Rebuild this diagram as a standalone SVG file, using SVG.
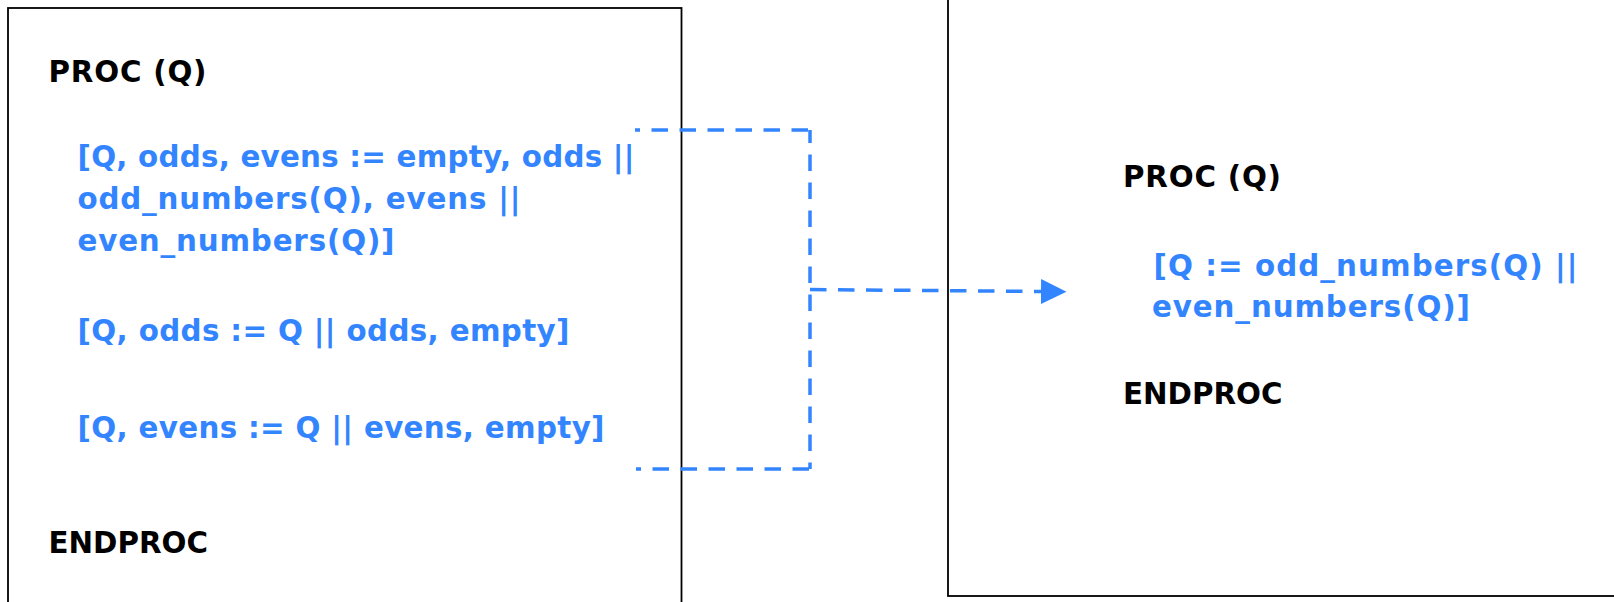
<svg xmlns="http://www.w3.org/2000/svg" width="1614" height="602" viewBox="0 0 1614 602">
  <style>
    .box { fill: #ffffff; stroke: #000000; stroke-width: 1.8; }
    .kw { font-family: "DejaVu Sans", Verdana, sans-serif; font-weight: bold; font-size: 29.33px; fill: #000000; }
    .code { font-family: "DejaVu Sans", Verdana, sans-serif; font-weight: bold; font-size: 29.33px; fill: #3385ff; }
    .link { fill: none; stroke: #3385ff; stroke-width: 3.5; stroke-dasharray: 16.5 11.5; }
  </style>
  <defs>
    <marker id="arrow" markerUnits="userSpaceOnUse" markerWidth="26" markerHeight="26" refX="0" refY="13" orient="auto" viewBox="0 0 26 26">
      <path d="M0,0.5 L25.5,13 L0,25.5 Z" fill="#3385ff"/>
    </marker>
  </defs>
  <rect width="1614" height="602" fill="#ffffff"/>

  <!-- original procedure -->
  <g id="proc-left">
    <rect class="box" x="8" y="8" width="673.5" height="700"/>
    <text class="kw" x="48.5" y="82" textLength="158" lengthAdjust="spacing">PROC (Q)</text>
    <text class="code" x="77.5" y="166.5" textLength="557" lengthAdjust="spacing">[Q, odds, evens := empty, odds ||</text>
    <text class="code" x="77.5" y="208.5" textLength="443" lengthAdjust="spacing">odd_numbers(Q), evens ||</text>
    <text class="code" x="77.5" y="250.5" textLength="317" lengthAdjust="spacing">even_numbers(Q)]</text>
    <text class="code" x="77.5" y="340.5" textLength="492" lengthAdjust="spacing">[Q, odds := Q || odds, empty]</text>
    <text class="code" x="77.5" y="438" textLength="527" lengthAdjust="spacing">[Q, evens := Q || evens, empty]</text>
    <text class="kw" x="48.5" y="552.5">ENDPROC</text>
  </g>

  <!-- simplified procedure -->
  <g id="proc-right">
    <rect class="box" x="948" y="-20" width="700" height="616"/>
    <text class="kw" x="1123" y="187" textLength="158" lengthAdjust="spacing">PROC (Q)</text>
    <text class="code" x="1153.5" y="275.5" textLength="424" lengthAdjust="spacing">[Q := odd_numbers(Q) ||</text>
    <text class="code" x="1152" y="317" textLength="318" lengthAdjust="spacing">even_numbers(Q)]</text>
    <text class="kw" x="1123" y="403.5">ENDPROC</text>
  </g>

  <!-- dashed connectors -->
  <g id="connectors">
    <path class="link" stroke-dashoffset="11.5" d="M635,130 H810"/>
    <path class="link" stroke-dashoffset="11.5" d="M636,469 H810"/>
    <path class="link" stroke-dashoffset="3.5" d="M810,130 V469"/>
    <path class="link" d="M810,289.5 L1041,291.5" marker-end="url(#arrow)"/>
  </g>
</svg>
